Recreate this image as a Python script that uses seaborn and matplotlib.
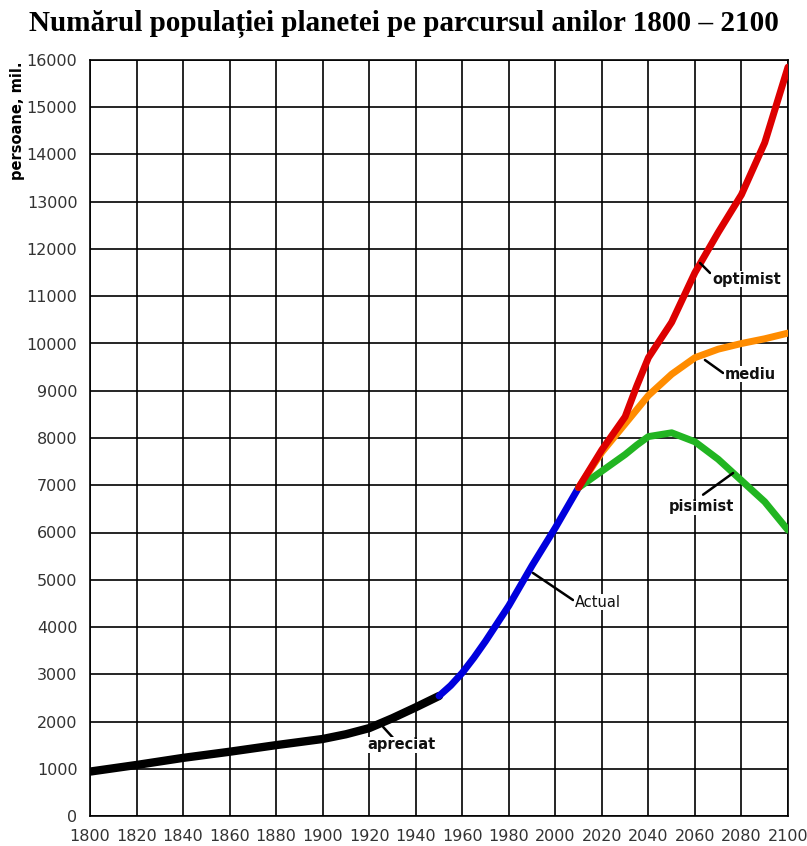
import numpy as np
import pandas as pd
import matplotlib
matplotlib.use("Agg")
import matplotlib.pyplot as plt
import seaborn as sns

# estimated values (millions of people)
years_est = [1800, 1820, 1840, 1860, 1880, 1900, 1910, 1920, 1930, 1940, 1950]
pop_est = [940, 1080, 1230, 1360, 1500, 1630, 1730, 1860, 2070, 2300, 2540]

years_act = [1950, 1955, 1960, 1965, 1970, 1980, 1990, 2000, 2010]
pop_act = [2540, 2760, 3030, 3350, 3700, 4450, 5300, 6100, 6950]

years_proj = [2010, 2020, 2030, 2035, 2040, 2050, 2060, 2070, 2080, 2090, 2100]
pop_opt = [6950, 7750, 8450, 9100, 9700, 10450, 11500, 12350, 13150, 14250, 15850]
pop_med = [6950, 7700, 8300, 8600, 8900, 9350, 9700, 9880, 10000, 10100, 10220]
pop_pes = [6950, 7300, 7650, 7850, 8030, 8110, 7920, 7550, 7100, 6650, 6050]

x_ticks = list(range(1800, 2101, 20))
y_ticks = list(range(0, 16001, 1000))

title = "Numărul populației planetei pe parcursul anilor 1800 – 2100"
ylabel = "persoane, mil."

df = pd.concat([
    pd.DataFrame({"an": years_est, "pop": pop_est, "serie": "apreciat"}),
    pd.DataFrame({"an": years_act, "pop": pop_act, "serie": "Actual"}),
    pd.DataFrame({"an": years_proj, "pop": pop_opt, "serie": "optimist"}),
    pd.DataFrame({"an": years_proj, "pop": pop_med, "serie": "mediu"}),
    pd.DataFrame({"an": years_proj, "pop": pop_pes, "serie": "pisimist"}),
])

colors = {"apreciat": "black", "Actual": "#0000dd", "optimist": "#dd0000",
          "mediu": "#ff8c00", "pisimist": "#22b522"}
widths = {"apreciat": 6, "Actual": 5, "optimist": 5, "mediu": 5, "pisimist": 5}

sns.set_style("white")
plt.rcParams["font.family"] = ["DejaVu Sans"]
plt.rcParams["text.color"] = "black"

fig = plt.figure(figsize=(8.07, 8.46), dpi=100)
ax = fig.add_axes([90 / 807, 30 / 846, 698 / 807, 756 / 846])

# draw in back-to-front order
for s in ["apreciat", "Actual", "mediu", "pisimist", "optimist"]:
    sub = df[df["serie"] == s]
    sns.lineplot(data=sub, x="an", y="pop", ax=ax, color=colors[s],
                 lw=widths[s], solid_capstyle="round", solid_joinstyle="round",
                 zorder=3, legend=False)

ax.set_xlim(1800, 2100)
ax.set_ylim(0, 16000)
ax.set_xticks(x_ticks)
ax.set_yticks(y_ticks)
ax.grid(True, color="black", lw=1.2)
ax.set_axisbelow(True)
for sp in ax.spines.values():
    sp.set_color("black")
    sp.set_linewidth(1.2)
ax.tick_params(axis="both", direction="out", length=5, width=1.2, color="black",
               labelsize=11.5, labelcolor="#333333", pad=4)
ax.set_xlabel("")
ax.set_ylabel("")

fig.text(0.5, 0.988, title, ha="center", va="top", fontsize=21,
         fontweight="bold", family="Liberation Serif")
fig.text(18 / 807, 1 - 62 / 846, ylabel, rotation=90, ha="center", va="top",
         fontsize=10.5, fontweight="bold")

# label leader lines: (line start, line end, text position, text, weight, ha)
labels = [
    ((2062.2, 11704), (2066.5, 11492), (2067.4, 11365), "optimist", "bold", "left"),
    ((2064.3, 9651), (2072.1, 9376), (2072.9, 9354), "mediu", "bold", "left"),
    ((2076.4, 7259), (2063.5, 6800), (2063.0, 6540), "pisimist", "bold", "center"),
    ((1990.4, 5143), (2007.6, 4571), (2008.5, 4529), "Actual", "normal", "left"),
    ((1926.0, 1884), (1931.1, 1608), (1933.7, 1503), "apreciat", "bold", "center"),
]
for p0, p1, pt, txt, w, ha in labels:
    ax.annotate("", xy=p0, xytext=p1,
                arrowprops=dict(arrowstyle="-", color="black", lw=1.8,
                                shrinkA=0, shrinkB=0), zorder=5)
    ax.text(pt[0], pt[1], txt, fontsize=10.5, fontweight=w, ha=ha, va="center",
            color="#111111", zorder=6,
            bbox=dict(facecolor="white", edgecolor="none", pad=0.5))

fig.savefig("out.png", dpi=100, facecolor="white")
